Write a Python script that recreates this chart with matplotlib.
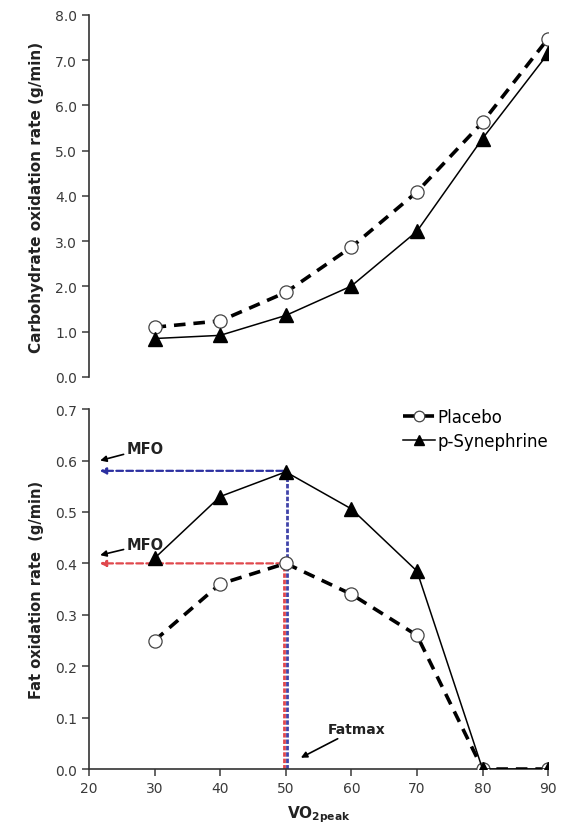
import numpy as np
import matplotlib.pyplot as plt

# VO2peak (%) stages
vo2 = [30, 40, 50, 60, 70, 80, 90]

# carbohydrate oxidation (g/min)
cho_placebo = [1.10, 1.24, 1.87, 2.87, 4.09, 5.63, 7.48]
cho_syn = [0.85, 0.92, 1.36, 2.01, 3.22, 5.27, 7.15]

# fat oxidation (g/min)
fat_placebo = [0.25, 0.36, 0.40, 0.34, 0.26, 0.0, 0.0]
fat_syn = [0.41, 0.53, 0.578, 0.506, 0.385, 0.0, 0.0]

mfo_syn = 0.58
mfo_placebo = 0.40
fatmax = 50

plt.rcParams['font.family'] = ['DejaVu Sans']
tick_col = '#3a3a3a'

fig = plt.figure(figsize=(5.79, 8.37), dpi=100)
ax1 = fig.add_axes([0.1537, 0.5484, 0.793, 0.4325])
ax2 = fig.add_axes([0.1537, 0.080, 0.793, 0.430])

dash_style = dict(color='black', lw=2.6, linestyle=(0, (3.2, 2.2)), marker='o',
                  ms=9.5, mfc='white', mec='#444444', mew=0.9)
solid_style = dict(color='black', lw=1.1, linestyle='-', marker='^',
                   ms=9.5, mfc='black', mec='black')

# top panel - carbohydrate
ax1.plot(vo2, cho_placebo, label='Placebo', zorder=3, **dash_style)
ax1.plot(vo2, cho_syn, label='p-Synephrine', zorder=4, **solid_style)
ax1.set_xlim(20, 90)
ax1.set_ylim(0, 8)
ax1.set_yticks(np.arange(0, 8.1, 1.0))
ax1.set_yticklabels(['%.1f' % v for v in np.arange(0, 8.1, 1.0)])
ax1.set_xticks([])
for s in ['top', 'right', 'bottom']:
    ax1.spines[s].set_visible(False)
ax1.set_ylabel('Carbohydrate oxidation rate (g/min)', fontsize=11,
               fontweight='bold', color='#222222', labelpad=8)

# bottom panel - fat
# reference lines for MFO / Fatmax
ax2.annotate('', xy=(21.2, mfo_syn), xytext=(fatmax, mfo_syn),
             arrowprops=dict(arrowstyle='-|>', color='#2b2fa0', lw=1.6,
                             linestyle=(0, (3, 1.5)), mutation_scale=9), zorder=2)
ax2.plot([fatmax - 0.25, fatmax - 0.25], [0, mfo_placebo], color='#e0484d', lw=2.0,
         linestyle=(0, (1.6, 0.7)), zorder=2)
ax2.plot([fatmax + 0.2, fatmax + 0.2], [0, mfo_syn], color='#2b2fa0', lw=2.0,
         linestyle=(0, (1.6, 0.7)), zorder=2, alpha=0.9)
ax2.annotate('', xy=(21.2, mfo_placebo), xytext=(fatmax, mfo_placebo),
             arrowprops=dict(arrowstyle='-|>', color='#e0484d', lw=1.6,
                             linestyle=(0, (3, 1.5)), mutation_scale=9), zorder=2)

ax2.plot(vo2, fat_placebo, label='Placebo', zorder=3, **dash_style)
ax2.plot(vo2, fat_syn, label='p-Synephrine', zorder=4, **solid_style)

ax2.annotate('MFO', xy=(21.7, 0.600), xytext=(25.7, 0.623), fontsize=10.5,
             fontweight='bold', va='center', ha='left', color='#222222',
             arrowprops=dict(arrowstyle='-|>', color='black', lw=1.2,
                             mutation_scale=9, shrinkA=0, shrinkB=0))
ax2.annotate('MFO', xy=(21.7, 0.416), xytext=(25.7, 0.437), fontsize=10.5,
             fontweight='bold', va='center', ha='left', color='#222222',
             arrowprops=dict(arrowstyle='-|>', color='black', lw=1.2,
                             mutation_scale=9, shrinkA=0, shrinkB=0))
ax2.annotate('Fatmax', xy=(52.3, 0.022), xytext=(56.4, 0.078), fontsize=10,
             fontweight='bold', va='center', ha='left', color='#222222',
             arrowprops=dict(arrowstyle='-|>', color='black', lw=1.2,
                             mutation_scale=9, shrinkA=0, shrinkB=0))

ax2.set_xlim(20, 90)
ax2.set_ylim(0, 0.7)
ax2.set_xticks(np.arange(20, 91, 10))
ax2.set_yticks(np.arange(0, 0.71, 0.1))
ax2.set_yticklabels(['%.1f' % v for v in np.arange(0, 0.71, 0.1)])
for s in ['top', 'right']:
    ax2.spines[s].set_visible(False)
ax2.set_ylabel('Fat oxidation rate  (g/min)', fontsize=10.5,
               fontweight='bold', color='#222222', labelpad=8)
ax2.set_xlabel(r'VO$_\mathbf{2peak}$', fontsize=11, fontweight='bold',
               color='#222222', labelpad=6)

ax2.legend(loc='upper right', bbox_to_anchor=(1.033, 1.045), frameon=False,
           fontsize=12, handlelength=1.9, handletextpad=0.15, labelspacing=0.35,
           markerscale=0.8)

for ax in (ax1, ax2):
    ax.tick_params(direction='out', length=5, width=1.1, colors=tick_col,
                   labelsize=10, labelcolor=tick_col)
    for s in ax.spines.values():
        s.set_linewidth(1.2)
        s.set_color('#333333')

fig.savefig('out.png', dpi=100)
